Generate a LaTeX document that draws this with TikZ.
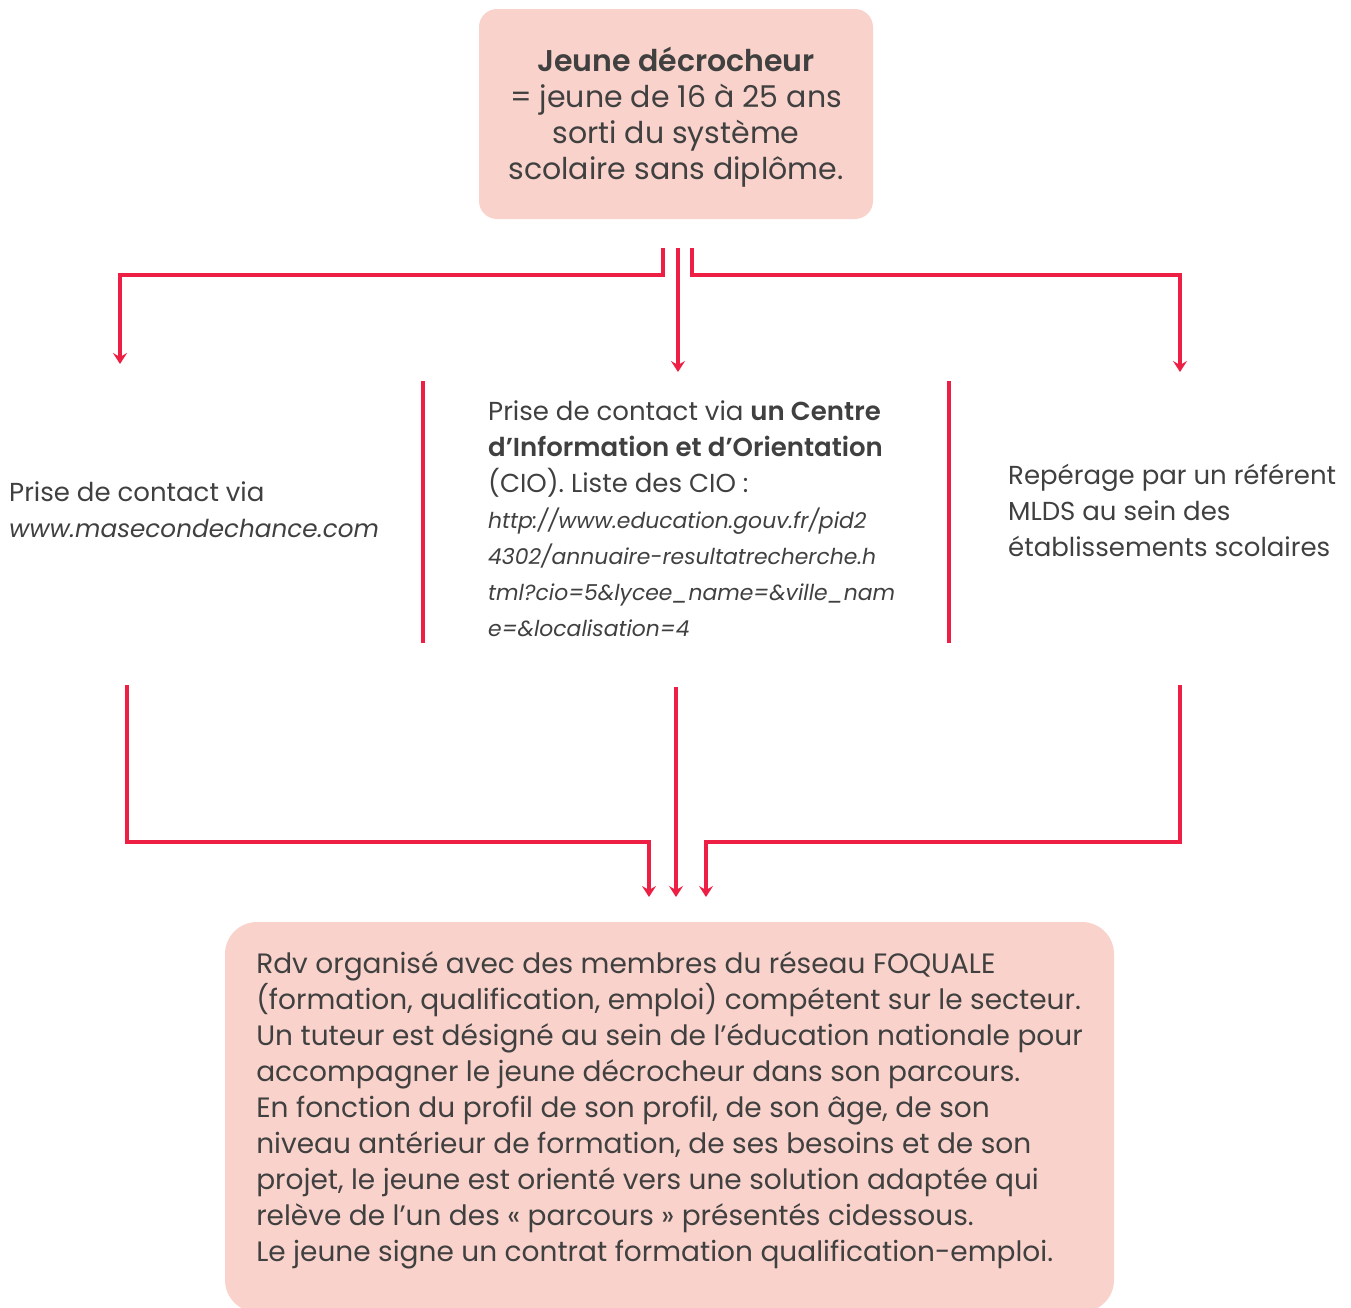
\documentclass[tikz,border=0pt]{standalone}
\usepackage{fontspec}
\setmainfont{Poppins}[BoldFont={Poppins SemiBold}]
\usetikzlibrary{arrows.meta}

\definecolor{linered}{RGB}{238,31,68}
\definecolor{boxfill}{RGB}{249,211,203}
\definecolor{textgray}{RGB}{64,64,64}

\newcommand{\cioURL}[1]{{\fontsize{21.9}{36}\selectfont\itshape #1}}

\begin{document}
\begin{tikzpicture}[
        x=1pt, y=-1pt,
        font=\fontsize{28}{36}\selectfont, text=textgray,
        boxnode/.style={rounded corners=18pt, fill=boxfill, inner sep=0pt},
        textnode/.style={align=left, inner sep=0pt, anchor=west, font=\fontsize{26}{36}\selectfont},
        flowline/.style={draw=linered, line width=3.2pt, -{Stealth[length=11pt, width=14pt, inset=4pt]}},
        sepline/.style={draw=linered, line width=3.2pt},
    ]
    \useasboundingbox (0,0) rectangle (1351,1307);

    %Boxes: start and end
    \node[boxnode, minimum width=394pt, minimum height=210pt, align=center,
          font=\fontsize{30}{36}\selectfont, text depth=1pt] (start) at (676,114)
        {\textbf{Jeune décrocheur}\\= jeune de 16 à 25 ans\\sorti du système\\scolaire sans diplôme.};
    \node[boxnode, rounded corners=32pt, minimum width=889pt, minimum height=390pt, align=left,
          text depth=21pt] (result) at (669.5,1117)
        {Rdv organisé avec des membres du réseau FOQUALE\\
         (formation, qualification, emploi) compétent sur le secteur.\\
         Un tuteur est désigné au sein de l’éducation nationale pour\\
         accompagner le jeune décrocheur dans son parcours.\\
         En fonction du profil de son profil, de son âge, de son\\
         niveau antérieur de formation, de ses besoins et de son\\
         projet, le jeune est orienté vers une solution adaptée qui\\
         relève de l’un des « parcours » présentés cidessous.\\
         Le jeune signe un contrat formation qualification-emploi.};

    %Texts: three ways of contact
    \node[textnode] (web) at (9,510) {Prise de contact via\\{\fontsize{24.7}{36}\selectfont\itshape www.masecondechance.com}};
    \node[textnode] (cio) at (488,519) {Prise de contact via \textbf{un Centre}\\
        \textbf{d’Information et d’Orientation}\\(CIO). Liste des CIO :\\
        \cioURL{http://www.education.gouv.fr/pid2}\\
        \cioURL{4302/annuaire-resultatrecherche.h}\\
        \cioURL{tml?cio=5\&lycee\_name=\&ville\_nam}\\
        \cioURL{e=\&localisation=4}};
    \node[textnode] (mlds) at (1008,510) {Repérage par un référent\\MLDS au sein des\\établissements scolaires};

    %Coordinates: free ends of the connectors
    \coordinate (out_left)   at (663,248);
    \coordinate (out_center) at (678,248);
    \coordinate (out_right)  at (692,248);
    \coordinate (to_web)     at (120,364);
    \coordinate (to_cio)     at (678,372);
    \coordinate (to_mlds)    at (1180,372);
    \coordinate (from_web)   at (127,685);
    \coordinate (from_cio)   at (676,687);
    \coordinate (from_mlds)  at (1180,685);
    \coordinate (in_left)    at (649,897);
    \coordinate (in_center)  at (676,897);
    \coordinate (in_right)   at (706,897);
    \coordinate (sep_a_top) at (423,381);
    \coordinate (sep_a_bot) at (423,643);
    \coordinate (sep_b_top) at (949,381);
    \coordinate (sep_b_bot) at (949,643);

    %Lines: from the start box
    \draw[flowline] (out_left) |- ++(0,27) -| (to_web);
    \draw[flowline] (out_center) -- (to_cio);
    \draw[flowline] (out_right) |- ++(0,27) -| (to_mlds);

    %Lines: separators between the columns
    \draw[sepline] (sep_a_top) -- (sep_a_bot);
    \draw[sepline] (sep_b_top) -- (sep_b_bot);

    %Lines: to the result box
    \draw[flowline] (from_web) |- (in_left |- 0,842) -- (in_left);
    \draw[flowline] (from_cio) -- (in_center);
    \draw[flowline] (from_mlds) |- (in_right |- 0,842) -- (in_right);
\end{tikzpicture}
\end{document}
